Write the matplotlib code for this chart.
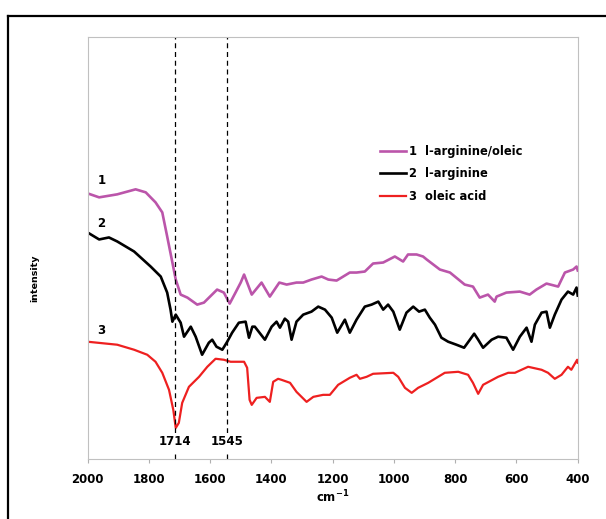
import matplotlib
matplotlib.use("Agg")
import matplotlib.pyplot as plt
from matplotlib.lines import Line2D

plt.rcParams['font.family'] = ['DejaVu Sans']
plt.rcParams['font.weight'] = 'bold'
plt.rcParams['mathtext.fontset'] = 'custom'
plt.rcParams['mathtext.rm'] = 'DejaVu Sans:bold'
plt.rcParams['mathtext.bf'] = 'DejaVu Sans:bold'

# spectra (wavenumber in cm-1, intensity in arbitrary units)
wn_1 = [2000, 1962, 1903, 1843, 1810, 1778, 1756, 1740, 1723, 1712, 1696, 1674, 1642, 1620,
        1577, 1555, 1536, 1517, 1500, 1489, 1464, 1432, 1405, 1374, 1350, 1318, 1296, 1269,
        1236, 1214, 1187, 1144, 1122, 1095, 1068, 1035, 997, 970, 954, 926, 905, 893, 850,
        817, 769, 742, 720, 693, 671, 665, 633, 589, 557, 535, 502, 464, 442, 415, 404, 400]
int_1 = [265, 261, 264, 269, 266, 256, 246, 222, 196, 179, 164, 161, 154, 156,
         169, 166, 155, 166, 176, 184, 164, 176, 162, 176, 174, 176, 176, 179,
         182, 179, 178, 186, 186, 187, 195, 196, 202, 197, 204, 204, 202, 199, 189,
         186, 174, 172, 161, 164, 157, 162, 166, 167, 164, 169, 175, 172, 186, 189, 192, 188]

wn_2 = [2000, 1962, 1930, 1903, 1848, 1794, 1761, 1740, 1729, 1723, 1712, 1696, 1685, 1663,
        1647, 1626, 1604, 1593, 1579, 1560, 1544, 1528, 1506, 1484, 1473, 1462, 1454, 1421,
        1399, 1383, 1372, 1356, 1345, 1334, 1318, 1296, 1269, 1247, 1225, 1203, 1185, 1160,
        1144, 1122, 1095, 1073, 1051, 1035, 1019, 1002, 981, 959, 937, 918, 899, 883, 866,
        845, 823, 796, 771, 752, 738, 725, 709, 681, 660, 633, 611, 589, 567, 551, 540, 518,
        502, 491, 475, 453, 432, 415, 404, 400]
int_2 = [226, 219, 221, 217, 207, 192, 182, 166, 149, 137, 144, 136, 122, 132,
         122, 104, 116, 119, 112, 109, 117, 126, 136, 137, 121, 132, 132, 119,
         132, 137, 131, 140, 137, 119, 137, 144, 147, 152, 149, 141, 126, 139,
         126, 139, 152, 154, 157, 149, 154, 147, 129, 146, 152, 147, 149, 141, 134,
         121, 117, 114, 111, 119, 125, 119, 111, 119, 122, 121, 109, 122, 131, 117, 134, 146,
         147, 131, 144, 159, 167, 164, 171, 163]

wn_3 = [2000, 1903, 1848, 1805, 1778, 1756, 1734, 1720, 1712, 1702, 1691, 1669, 1636, 1609,
        1582, 1555, 1533, 1489, 1479, 1471, 1464, 1448, 1421, 1405, 1394, 1378, 1367, 1339,
        1318, 1285, 1263, 1231, 1209, 1182, 1144, 1122, 1111, 1089, 1068, 1002, 986, 964,
        942, 921, 888, 834, 790, 758, 742, 725, 709, 660, 627, 605, 562, 518, 497, 475, 453,
        432, 421, 402, 400]
int_3 = [117, 114, 109, 104, 97, 86, 69, 49, 31, 36, 56, 72, 82, 92,
         100, 99, 97, 97, 91, 59, 54, 61, 62, 57, 77, 80, 79, 76,
         67, 57, 62, 64, 64, 74, 81, 84, 80, 82, 85, 86, 82, 71,
         66, 71, 76, 86, 87, 84, 76, 65, 74, 82, 86, 86, 92, 89, 86, 80, 84,
         92, 89, 99, 96]

series_names = ['1  l-arginine/oleic', '2  l-arginine', '3  oleic acid']
series_colors = ['#bb55aa', '#000000', '#ee2020']
peak_marks = [1714, 1545]
x_ticks = [2000, 1800, 1600, 1400, 1200, 1000, 800, 600, 400]

fig = plt.figure(figsize=(6.06, 5.19), dpi=100)
ax = fig.add_axes([0.1444, 0.1156, 0.809, 0.8132])

ax.plot(wn_1, int_1, color=series_colors[0], lw=1.9, label=series_names[0])
ax.plot(wn_2, int_2, color=series_colors[1], lw=1.9, label=series_names[1])
ax.plot(wn_3, int_3, color=series_colors[2], lw=1.6, label=series_names[2])

for w in peak_marks:
    ax.axvline(w, color='black', lw=0.9, ls=(0, (4, 3)))
    ax.text(w, 17, str(w), ha='center', va='center', fontsize=8.5, fontweight='bold',
            bbox=dict(facecolor='white', edgecolor='none', pad=1.5))

# curve numbers
ax.text(1955, 278, '1', fontsize=8.5, fontweight='bold', ha='center', va='center')
ax.text(1955, 235, '2', fontsize=8.5, fontweight='bold', ha='center', va='center')
ax.text(1955, 128, '3', fontsize=8.5, fontweight='bold', ha='center', va='center')

ax.set_xlim(2000, 400)
ax.set_ylim(0, 421)
ax.set_xticks(x_ticks)
ax.set_yticks([])
ax.tick_params(axis='x', direction='out', length=3, width=0.8, color='#b0b0b0',
               labelsize=8.5, pad=7)
for lab in ax.get_xticklabels():
    lab.set_fontweight('bold')
for sp in ax.spines.values():
    sp.set_color('#c0c0c0')
    sp.set_linewidth(0.8)

ax.set_xlabel(r'cm$^{-1}$', fontsize=8.5, fontweight='bold', labelpad=2)
fig.text(35 / 606, 1 - 278 / 519, 'intensity', rotation=90, ha='center', va='center',
         fontsize=6.8, fontweight='bold')

leg = ax.legend(loc='upper left', bbox_to_anchor=(0.596, 0.745), frameon=False,
                handlelength=2.3, handletextpad=0.25, labelspacing=0.86,
                borderpad=0, borderaxespad=0, prop={'size': 8.3, 'weight': 'bold'})

# outer frame (left and top edges visible)
fig.add_artist(Line2D([8 / 606, 8 / 606], [0, 1 - 16 / 519], color='black', lw=1.6,
                      transform=fig.transFigure))
fig.add_artist(Line2D([8 / 606, 1], [1 - 16 / 519, 1 - 16 / 519], color='black', lw=1.6,
                      transform=fig.transFigure))

fig.savefig('out.png', dpi=100)
